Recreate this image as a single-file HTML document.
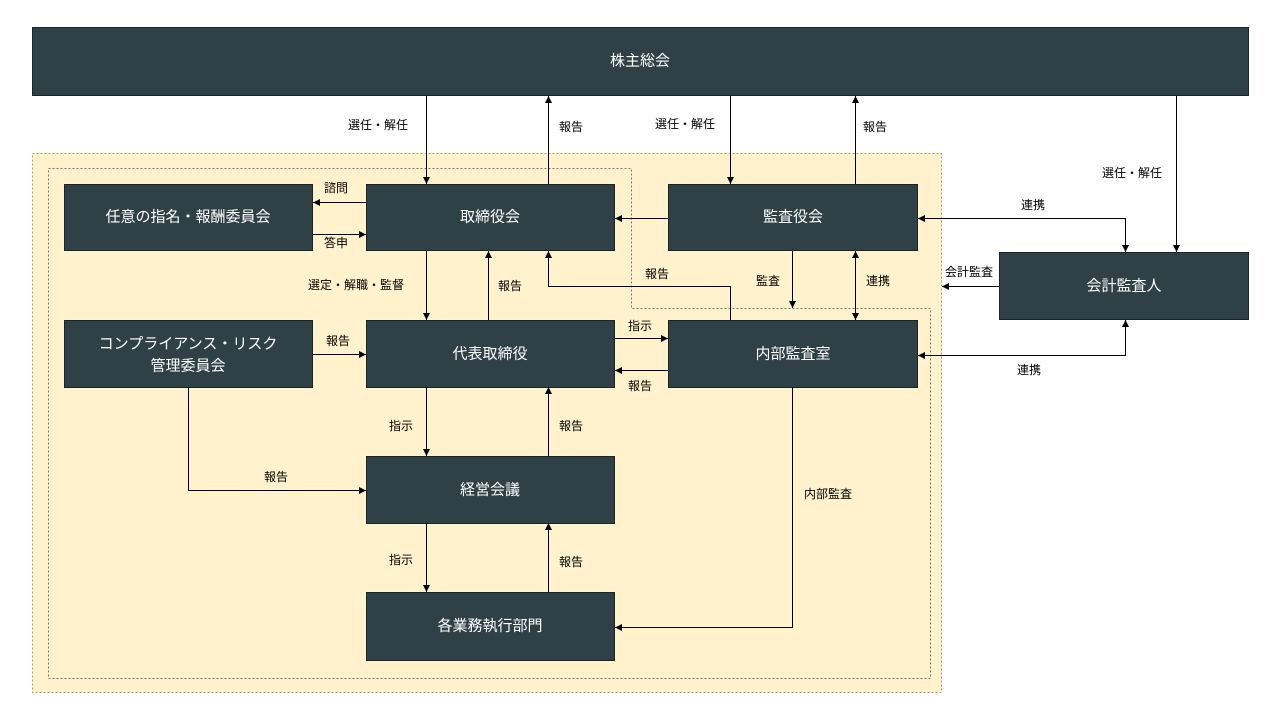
<!DOCTYPE html>
<html><head><meta charset="utf-8"><style>
body{margin:0;background:#fff;}
svg{display:block;font-family:"Liberation Sans","Noto Sans CJK JP",sans-serif;}
.b{fill:#2f4147;stroke:#1b2528;stroke-width:1}
.t{fill:#fff;font-size:15px;text-anchor:middle;dominant-baseline:central}
.l{fill:#000;font-size:12px;text-anchor:middle;dominant-baseline:central}
.c{stroke:#000;stroke-width:1;fill:none}
</style></head><body>
<svg width="1280" height="720" viewBox="0 0 1280 720">
<defs><marker id="a" markerWidth="8" markerHeight="8" refX="7" refY="4" orient="auto" markerUnits="userSpaceOnUse"><path d="M0,0.5 L7,4 L0,7.5 Z" fill="#000"/></marker></defs>
<rect x="32.5" y="153.5" width="909" height="539" fill="#fff2cc" stroke="#b09a6a" stroke-dasharray="2,2"/>
<path d="M48.5,168.5 H631.5 V308.5 H930.5 V678.5 H48.5 Z" fill="none" stroke="#777" stroke-dasharray="2,2"/>
<rect class="b" x="32.5" y="27.5" width="1216" height="68"/><text class="t" x="640" y="61">株主総会</text>
<rect class="b" x="64.5" y="184.5" width="248" height="66"/><text class="t" x="188" y="217">任意の指名・報酬委員会</text>
<rect class="b" x="366.5" y="184.5" width="248" height="66"/><text class="t" x="490" y="217">取締役会</text>
<rect class="b" x="668.5" y="184.5" width="249" height="66"/><text class="t" x="793" y="217">監査役会</text>
<rect class="b" x="999.5" y="252.5" width="249" height="67"/><text class="t" x="1124" y="286">会計監査人</text>
<rect class="b" x="64.5" y="320.5" width="248" height="67"/><text class="t" x="188" y="344">コンプライアンス・リスク</text><text class="t" x="188" y="366">管理委員会</text>
<rect class="b" x="366.5" y="320.5" width="248" height="67"/><text class="t" x="490" y="354">代表取締役</text>
<rect class="b" x="668.5" y="320.5" width="249" height="67"/><text class="t" x="793" y="354">内部監査室</text>
<rect class="b" x="366.5" y="456.5" width="248" height="67"/><text class="t" x="490" y="490">経営会議</text>
<rect class="b" x="366.5" y="592.5" width="248" height="68"/><text class="t" x="490" y="626">各業務執行部門</text>
<g class="c">
<path d="M426.5,96 V184" marker-end="url(#a)"/>
<path d="M548.5,184 V96" marker-end="url(#a)"/>
<path d="M730.5,96 V184" marker-end="url(#a)"/>
<path d="M855.5,184 V96" marker-end="url(#a)"/>
<path d="M1176.5,96 V252" marker-end="url(#a)"/>
<path d="M366,202.5 H313" marker-end="url(#a)"/>
<path d="M313,234.5 H366" marker-end="url(#a)"/>
<path d="M668,218.5 H615" marker-end="url(#a)"/>
<path d="M426.5,251 V320" marker-end="url(#a)"/>
<path d="M488.5,320 V251" marker-end="url(#a)"/>
<path d="M730.5,320 V286.5 H548.5 V251" marker-end="url(#a)"/>
<path d="M792.5,251 V308" marker-end="url(#a)"/>
<path d="M855.5,258 V320" marker-end="url(#a)"/>
<path d="M855.5,312 V251" marker-end="url(#a)"/>
<path d="M925,218.5 H1125.5 V252" marker-end="url(#a)"/>
<path d="M1125.5,218.5 H918" marker-end="url(#a)"/>
<path d="M999,286.5 H942" marker-end="url(#a)"/>
<path d="M925,355.5 H1125.5 V320" marker-end="url(#a)"/>
<path d="M1125.5,355.5 H918" marker-end="url(#a)"/>
<path d="M313,354.5 H366" marker-end="url(#a)"/>
<path d="M615,338.5 H668" marker-end="url(#a)"/>
<path d="M668,370.5 H615" marker-end="url(#a)"/>
<path d="M426.5,387 V456" marker-end="url(#a)"/>
<path d="M548.5,456 V387" marker-end="url(#a)"/>
<path d="M188.5,387 V490.5 H366" marker-end="url(#a)"/>
<path d="M426.5,523 V592" marker-end="url(#a)"/>
<path d="M548.5,592 V523" marker-end="url(#a)"/>
<path d="M792.5,387 V627.5 H615" marker-end="url(#a)"/>
</g>
<text class="l" x="378" y="125">選任・解任</text>
<text class="l" x="571" y="127">報告</text>
<text class="l" x="685" y="124">選任・解任</text>
<text class="l" x="875" y="127">報告</text>
<text class="l" x="1132" y="173">選任・解任</text>
<text class="l" x="336" y="188">諮問</text>
<text class="l" x="336" y="243">答申</text>
<text class="l" x="356" y="285">選定・解職・監督</text>
<text class="l" x="510" y="286">報告</text>
<text class="l" x="657" y="274">報告</text>
<text class="l" x="768" y="281">監査</text>
<text class="l" x="878" y="281">連携</text>
<text class="l" x="1033" y="205">連携</text>
<text class="l" x="969" y="272">会計監査</text>
<text class="l" x="1029" y="370">連携</text>
<text class="l" x="338" y="341">報告</text>
<text class="l" x="640" y="326">指示</text>
<text class="l" x="640" y="386">報告</text>
<text class="l" x="401" y="426">指示</text>
<text class="l" x="571" y="426">報告</text>
<text class="l" x="276" y="477">報告</text>
<text class="l" x="401" y="560">指示</text>
<text class="l" x="571" y="562">報告</text>
<text class="l" x="828" y="494">内部監査</text>
</svg>
</body></html>
